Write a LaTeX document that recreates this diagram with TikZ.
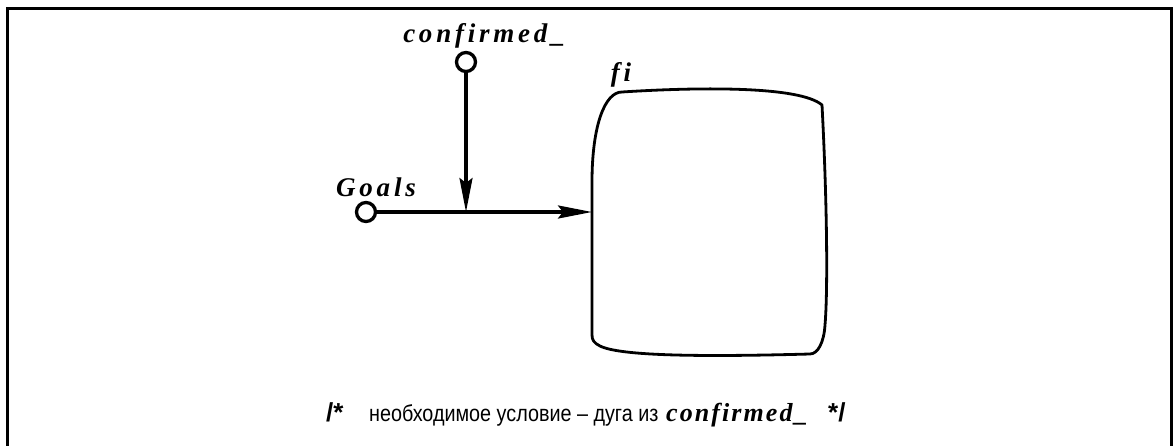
\documentclass[tikz,border=0pt]{standalone}
\usepackage{fontspec}
\usetikzlibrary{arrows.meta}
\setmainfont{Liberation Serif}
\newfontfamily\lblfont[LetterSpace=14]{Liberation Serif}
\newfontfamily\srcfont[LetterSpace=8]{Liberation Serif}
\newfontfamily\rufont{Liberation Sans}

\begin{document}
\begin{tikzpicture}[
    x=1pt, y=-1pt,
    port/.style={circle, draw, line width=3.3pt, minimum size=19pt, inner sep=0pt, fill=white},
    lbl/.style={font=\lblfont\bfseries\itshape\fontsize{27}{27}\selectfont, inner sep=0pt, anchor=base},
    arc/.style={line width=3.3pt, -{Stealth[length=34pt,width=13pt,inset=5pt]}},
    note/.style={inner sep=0pt, anchor=base west},
    box/.style={line width=2.8pt, line join=round}
  ]
  \useasboundingbox (0,0) rectangle (1173,446);
  % Frame
  \draw[line width=3pt] (7,470) -- (7,9) -- (1171,9) -- (1171,470);

  % Block fi
  \draw[box] (592,182) .. controls (592,125) and (605,92) .. (622,92)
    .. controls (700,87) and (800,86) .. (822,105)
    .. controls (827,200) and (828,290) .. (825,325)
    .. controls (824,342) and (818,354) .. (810,354)
    .. controls (700,357) and (620,356) .. (600,346)
    .. controls (594,343) and (592,340) .. (592,335) -- cycle;
  \coordinate (fi) at (592,212);
  \node[lbl] (fi-lbl) at (621,82) {fi};

  % Ports
  \node[port] (conf) at (466,62) {};
  \node[port] (goals) at (366,212) {};
  \node[lbl] (conf-lbl) at (484,43) {confirmed\_};
  \node[lbl] (goals-lbl) at (376,197) {Goals};
  \coordinate (join) at (466,212);

  % Arcs
  \draw[arc] (goals) -- (fi);
  \draw[arc] (conf) -- (join);

  % Comment line
  \node[note, font=\rufont\bfseries\fontsize{26}{26}\selectfont] (open) at (326,421) {/*};
  \node[note, font=\rufont\fontsize{23}{23}\selectfont] (txt) at (369,421) {\scalebox{0.86}[1]{необходимое условие – дуга из}};
  \node[note, font=\srcfont\bfseries\itshape\fontsize{26}{26}\selectfont] (src) at (666,421) {confirmed\_};
  \node[note, font=\rufont\bfseries\fontsize{26}{26}\selectfont] (close) at (828,421) {*/};
\end{tikzpicture}
\end{document}
